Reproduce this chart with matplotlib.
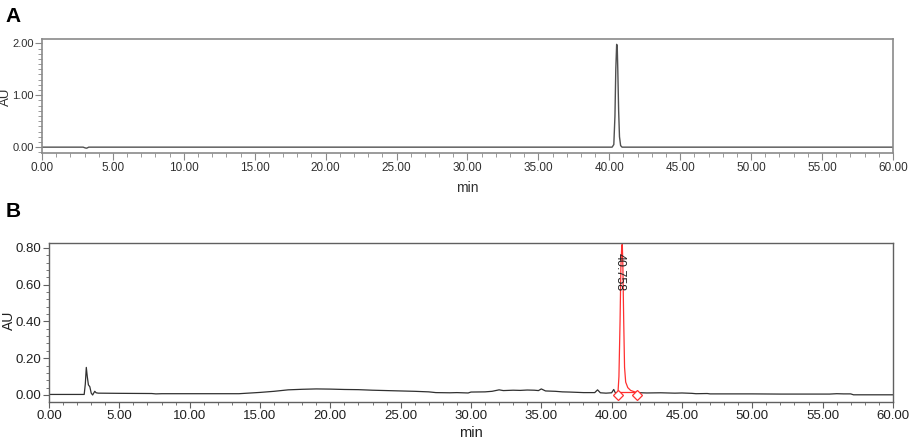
import matplotlib
matplotlib.use("Agg")
import matplotlib.pyplot as plt
from matplotlib.ticker import MultipleLocator, FormatStrFormatter

plt.rcParams['font.family'] = ['Liberation Sans', 'DejaVu Sans']

# Panel A: chromatogram (min, AU)
tempo_a = [0.0, 2.9, 3.05, 3.15, 3.3, 40.2, 40.32, 40.4, 40.46, 40.52, 40.56,
           40.6, 40.66, 40.72, 40.8, 40.9, 60.0]
abs_a = [0.0, 0.0, -0.015, -0.02, 0.0, 0.0, 0.05, 0.6, 1.5, 1.98, 1.95,
         1.5, 0.7, 0.2, 0.03, 0.0, 0.0]

# Panel B: black trace before the main peak
tempo_b1 = [0.0, 2.5, 2.58, 2.65, 2.72, 2.8, 2.9, 3.0, 3.1, 3.25, 3.35, 3.5,
            5.0, 7.3, 7.6, 8.0, 13.5, 15.0, 16.0, 17.0, 18.0, 19.0, 20.0,
            21.0, 22.0, 23.0, 24.0, 25.0, 26.0, 27.0, 27.5, 28.5, 29.0,
            29.8, 30.0, 31.0, 31.5, 32.0, 32.3, 33.0, 33.5, 34.0, 34.5,
            34.8, 35.0, 35.3, 36.0, 36.5, 37.0, 38.0, 38.8, 39.0, 39.2,
            39.6, 40.0, 40.15, 40.25, 40.35, 40.45]
abs_b1 = [0.003, 0.003, 0.06, 0.15, 0.1, 0.055, 0.045, 0.01, 0.0, 0.02,
          0.012, 0.01, 0.009, 0.008, 0.006, 0.007, 0.007, 0.014, 0.02,
          0.028, 0.031, 0.033, 0.032, 0.03, 0.029, 0.026, 0.024, 0.022,
          0.02, 0.017, 0.013, 0.012, 0.013, 0.011, 0.016, 0.017, 0.02,
          0.028, 0.024, 0.026, 0.025, 0.027, 0.026, 0.024, 0.033, 0.022,
          0.02, 0.017, 0.016, 0.013, 0.013, 0.028, 0.012, 0.01, 0.012,
          0.03, 0.014, 0.008, 0.01]

# Panel B: integrated peak (red)
tempo_pico = [40.45, 40.52, 40.6, 40.66, 40.72, 40.76, 40.8, 40.86, 40.92,
              41.0, 41.15, 41.35, 41.6, 41.8]
abs_pico = [0.01, 0.1, 0.4, 0.7, 0.81, 0.82, 0.7, 0.4, 0.15, 0.07, 0.04,
            0.025, 0.018, 0.013]

# Panel B: black trace after the peak
tempo_b2 = [41.8, 42.5, 43.5, 44.5, 45.0, 45.7, 46.0, 46.8, 47.0, 48.0,
            50.0, 52.0, 54.0, 55.5, 56.0, 56.5, 57.0, 57.2, 60.0]
abs_b2 = [0.013, 0.011, 0.012, 0.01, 0.011, 0.009, 0.007, 0.008, 0.006,
          0.006, 0.006, 0.005, 0.005, 0.005, 0.007, 0.006, 0.006, 0.001,
          0.001]

# integration baseline and marks
base_t = [40.45, 41.8]
base_y = [0.014, 0.014]
marca_t = [40.45, 41.8]
marca_y = [0.0, 0.0]
rotulo_pico = "40.758"

fig = plt.figure(figsize=(9.13, 4.4), dpi=100)

# ---- Painel A ----
axA = fig.add_axes([0.046, 0.652, 0.932, 0.259])
axA.plot(tempo_a, abs_a, color='#505050', lw=1.0)
axA.set_xlim(0, 60)
axA.set_ylim(-0.115, 2.08)
axA.xaxis.set_major_locator(MultipleLocator(5))
axA.xaxis.set_minor_locator(MultipleLocator(1))
axA.yaxis.set_major_locator(MultipleLocator(1))
axA.yaxis.set_minor_locator(MultipleLocator(0.1))
axA.xaxis.set_major_formatter(FormatStrFormatter('%.2f'))
axA.yaxis.set_major_formatter(FormatStrFormatter('%.2f'))
for s in axA.spines.values():
    s.set_color('#8a8a8a')
    s.set_linewidth(1.2)
axA.tick_params(which='major', length=5, color='#8a8a8a', labelsize=8.5,
                labelcolor='#303030', pad=1.5)
axA.tick_params(axis='y', which='major', labelsize=8, pad=1)
axA.tick_params(which='minor', length=3, color='#8a8a8a')
axA.set_xlabel('min', fontsize=10, labelpad=5, color='#303030')
fig.text(6 / 913, 1 - 97 / 440, 'AU', rotation=90, fontsize=9.5,
         ha='center', va='center', color='#303030')
fig.text(0.006, 0.985, 'A', fontsize=15, fontweight='bold', va='top')

# ---- Painel B ----
axB = fig.add_axes([0.0537, 0.0864, 0.9243, 0.3616])
axB.plot(tempo_b1, abs_b1, color='#303030', lw=0.9)
axB.plot(tempo_b2, abs_b2, color='#303030', lw=0.9)
axB.plot(tempo_pico, abs_pico, color='#ff3030', lw=0.9)
axB.plot(base_t, base_y, color='#ff3030', lw=0.9)
axB.plot(marca_t, marca_y, ls='none', marker='D', ms=5, mfc='white',
         mec='#ff3030', mew=0.9)
axB.text(40.58, 0.77, rotulo_pico, rotation=270, fontsize=9,
         ha='center', va='top', color='#202020')
axB.set_xlim(0, 60)
axB.set_ylim(-0.038, 0.827)
axB.xaxis.set_major_locator(MultipleLocator(5))
axB.xaxis.set_minor_locator(MultipleLocator(1))
axB.yaxis.set_major_locator(MultipleLocator(0.2))
axB.yaxis.set_minor_locator(MultipleLocator(0.04))
axB.xaxis.set_major_formatter(FormatStrFormatter('%.2f'))
axB.yaxis.set_major_formatter(FormatStrFormatter('%.2f'))
for s in axB.spines.values():
    s.set_color('#606060')
    s.set_linewidth(1.0)
axB.tick_params(which='major', length=4, color='#606060', labelsize=9.5,
                labelcolor='#202020', pad=1.5)
axB.tick_params(which='minor', length=2.5, color='#606060')
axB.set_xlabel('min', fontsize=10.5, labelpad=3, color='#202020')
fig.text(9 / 913, 1 - 320 / 440, 'AU', rotation=90, fontsize=10,
         ha='center', va='center', color='#202020')
fig.text(0.006, 0.54, 'B', fontsize=15, fontweight='bold', va='top')

fig.savefig('out.png', dpi=100)
